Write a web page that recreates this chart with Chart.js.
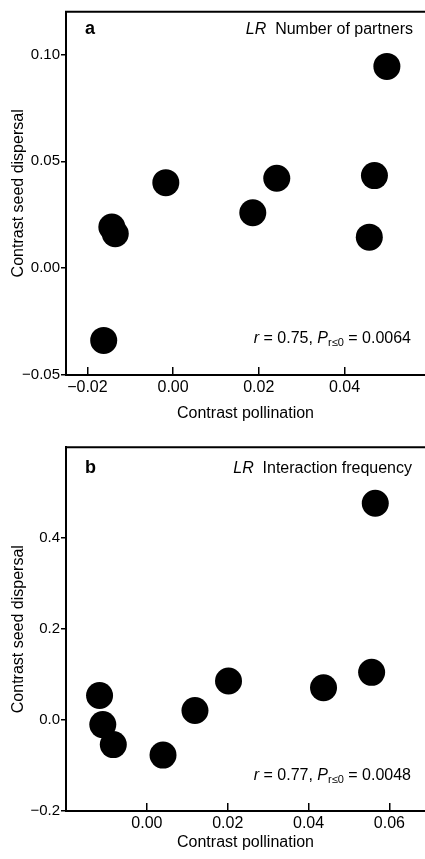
<!DOCTYPE html>
<html>
<head>
<meta charset="utf-8">
<script src="https://cdn.jsdelivr.net/npm/chart.js@4.4.0/dist/chart.umd.min.js"></script>
<style>
  html, body { margin: 0; padding: 0; background: #fff; overflow: hidden; }
  canvas { display: block; }
</style>
</head>
<body>
<canvas id="chartA" width="425" height="430"></canvas>
<canvas id="chartB" width="425" height="429"></canvas>
<script>
const FONT = '"Liberation Sans", Arial, Helvetica, sans-serif';

// panel a - LR number of partners
const pollinationA = [0.0499, 0.0470, 0.0458, 0.0242, 0.0186, -0.0017, -0.0143, -0.0135, -0.0162];
const dispersalA   = [0.0944, 0.0433, 0.0145, 0.0421, 0.0259, 0.0400, 0.0192, 0.0161, -0.0338];
const xTicksA = [-0.02, 0.00, 0.02, 0.04];
const yTicksA = [-0.05, 0.00, 0.05, 0.10];
const statA = { r: '0.75', p: '0.0064' };

// panel b - LR interaction frequency
const pollinationB = [0.0565, 0.0556, 0.0437, 0.0202, 0.0119, 0.0040, -0.0083, -0.0109, -0.0117];
const dispersalB   = [0.477, 0.105, 0.071, 0.086, 0.021, -0.077, -0.054, -0.010, 0.054];
const xTicksB = [0.00, 0.02, 0.04, 0.06];
const yTicksB = [-0.2, 0.0, 0.2, 0.4];
const statB = { r: '0.77', p: '0.0048' };

function fmt(v, d) {
  const s = Math.abs(v).toFixed(d);
  return v < -1e-9 ? '\u2212' + s : s;
}

// draw a list of text runs, right aligned at x
function drawRuns(ctx, runs, right, y) {
  const fontOf = r => (r.italic ? 'italic ' : '') + (r.size || 16) + 'px ' + FONT;
  let total = 0;
  runs.forEach(r => { ctx.font = fontOf(r); total += ctx.measureText(r.t).width; });
  let x = right - total;
  ctx.textAlign = 'left';
  runs.forEach(r => {
    ctx.font = fontOf(r);
    ctx.fillText(r.t, x, y + (r.dy || 0));
    x += ctx.measureText(r.t).width;
  });
}

const panelText = {
  id: 'panelText',
  afterDraw(chart, args, opts) {
    const { ctx, chartArea } = chart;
    ctx.save();
    // top frame line
    ctx.strokeStyle = '#000';
    ctx.lineWidth = 2;
    ctx.beginPath();
    ctx.moveTo(chartArea.left - 1, chartArea.top);
    ctx.lineTo(chartArea.right, chartArea.top);
    ctx.stroke();

    ctx.fillStyle = '#000';
    ctx.textBaseline = 'alphabetic';
    ctx.textAlign = 'left';
    ctx.font = 'bold 18px ' + FONT;
    ctx.fillText(opts.letter, opts.letterX, opts.headY);

    drawRuns(ctx, [
      { t: 'LR', italic: true },
      { t: '  ' + opts.title }
    ], opts.headRight, opts.headY);

    drawRuns(ctx, [
      { t: 'r', italic: true },
      { t: ' = ' + opts.stat.r + ', ' },
      { t: 'P', italic: true },
      { t: 'r\u22640', size: 11, dy: 3 },
      { t: ' = ' + opts.stat.p }
    ], opts.statRight, opts.statY);
    ctx.restore();
  }
};

function makePanel(id, p) {
  const ctx = document.getElementById(id).getContext('2d');
  return new Chart(ctx, {
    type: 'scatter',
    data: {
      datasets: [{
        data: p.xs.map((x, i) => ({ x: x, y: p.ys[i] })),
        backgroundColor: '#000',
        borderWidth: 0,
        pointRadius: 13.5,
        pointHoverRadius: 13.5
      }]
    },
    options: {
      responsive: false,
      animation: false,
      clip: false,
      layout: { autoPadding: false, padding: { top: p.top, left: 0, right: 0, bottom: 0 } },
      plugins: {
        legend: { display: false },
        tooltip: { enabled: false },
        panelText: {
          letter: p.letter, title: p.title, stat: p.stat,
          letterX: 85, headY: p.headY, headRight: p.headRight,
          statRight: 411, statY: p.statY
        }
      },
      scales: {
        x: {
          type: 'linear',
          min: p.xMin, max: p.xMax,
          afterBuildTicks: s => { s.ticks = p.xTicks.map(v => ({ value: v })); },
          afterFit: s => { s.height = p.xAxisH; },
          border: { display: true, color: '#000', width: 2 },
          grid: { drawOnChartArea: false, drawTicks: true, tickLength: -8, color: '#000', lineWidth: 1.5 },
          ticks: {
            color: '#000', padding: p.xPad, maxRotation: 0, autoSkip: false,
            font: { family: FONT, size: 16 },
            callback: v => fmt(v, 2)
          },
          title: {
            display: true, text: 'Contrast pollination', color: '#000',
            font: { family: FONT, size: 16 }, padding: { top: 0, bottom: 6.4 }
          }
        },
        y: {
          type: 'linear',
          min: p.yMin, max: p.yMax,
          afterBuildTicks: s => { s.ticks = p.yTicks.map(v => ({ value: v })); },
          afterFit: s => { s.width = 66; },
          border: { display: true, color: '#000', width: 2 },
          grid: { drawOnChartArea: false, drawTicks: true, tickLength: 5, color: '#000', lineWidth: 1.5 },
          ticks: {
            color: '#000', padding: 1, autoSkip: false,
            font: { family: FONT, size: 15 },
            callback: v => fmt(v, p.yDec)
          },
          title: {
            display: true, text: 'Contrast seed dispersal', color: '#000',
            font: { family: FONT, size: 16 }, padding: { top: 8.7, bottom: 0 }
          }
        }
      }
    },
    plugins: [panelText]
  });
}

makePanel('chartA', {
  xs: pollinationA, ys: dispersalA, xTicks: xTicksA, yTicks: yTicksA, yDec: 2,
  xMin: -0.025, xMax: 0.0588, yMin: -0.05, yMax: 0.12,
  top: 11.7, xAxisH: 55, xPad: 10.9,
  letter: 'a', title: 'Number of partners', stat: statA,
  headY: 34.3, headRight: 413, statY: 343.3
});

makePanel('chartB', {
  xs: pollinationB, ys: dispersalB, xTicks: xTicksB, yTicks: yTicksB, yDec: 1,
  xMin: -0.02, xMax: 0.0688, yMin: -0.2, yMax: 0.6,
  top: 17.3, xAxisH: 48, xPad: 11.4,
  letter: 'b', title: 'Interaction frequency', stat: statB,
  headY: 43.3, headRight: 412, statY: 350
});
</script>
</body>
</html>
